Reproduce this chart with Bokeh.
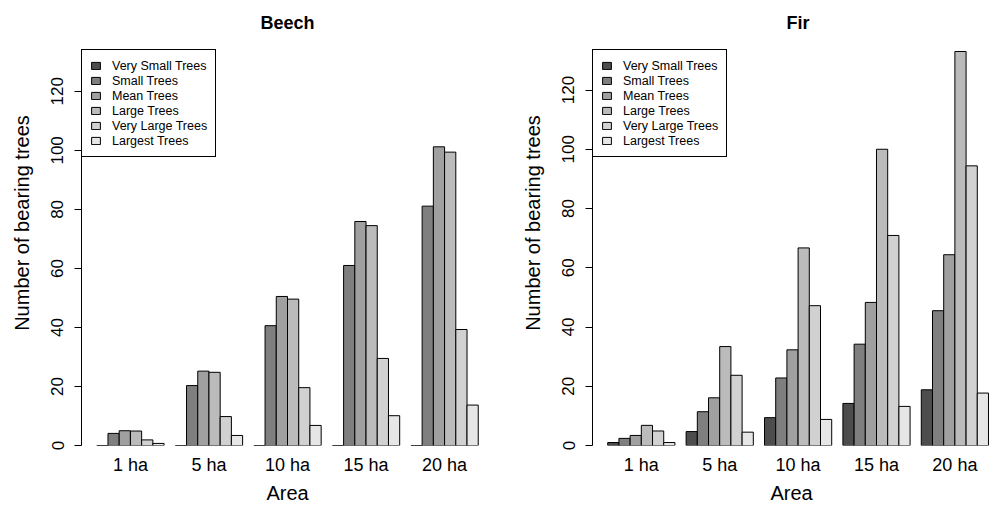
from bokeh.plotting import figure
from bokeh.models import Range1d, FixedTicker, Legend, LegendItem, ColumnDataSource, Label
from bokeh.layouts import row
from bokeh.embed import file_html
from bokeh.resources import INLINE

areas = ["1 ha", "5 ha", "10 ha", "15 ha", "20 ha"]
sizes = ["Very Small Trees", "Small Trees", "Mean Trees", "Large Trees",
         "Very Large Trees", "Largest Trees"]
colors = ["#4D4D4D", "#7F7F7F", "#A0A0A0", "#BBBBBB", "#D1D1D1", "#E6E6E6"]
y_ticks = [0, 20, 40, 60, 80, 100, 120]

beech_very_small = [0, 0, 0, 0, 0]
beech_small = [4.1, 20.3, 40.6, 61.0, 81.1]
beech_mean = [5.0, 25.2, 50.5, 75.9, 101.2]
beech_large = [4.9, 24.8, 49.6, 74.5, 99.4]
beech_very_large = [1.9, 9.8, 19.6, 29.5, 39.3]
beech_largest = [0.7, 3.4, 6.8, 10.1, 13.7]

fir_very_small = [1.0, 4.7, 9.4, 14.2, 18.8]
fir_small = [2.4, 11.4, 22.8, 34.2, 45.5]
fir_mean = [3.4, 16.1, 32.3, 48.3, 64.4]
fir_large = [6.8, 33.4, 66.7, 100.0, 133.0]
fir_very_large = [4.9, 23.7, 47.2, 70.9, 94.4]
fir_largest = [1.0, 4.5, 8.8, 13.2, 17.7]

FONT = "Liberation Sans"
INK = "black"
GROUP = len(sizes) + 1  # bars per group plus one bar of space
X_MID = (1 + GROUP * len(areas)) / 2  # centre of the plot region
H = 508
MB_BOTTOM = 63     # space below the frame (same for both panels: row aligns frames)
PLOT_TOP = 51      # top of the R plot region (px)
TITLE_Y = 22       # title centre (px)
LEGEND_H = 106


def make_panel(title, series, x_start, x_end, y_end, mb_left, mb_right):
    frame_h = H - MB_BOTTOM
    px_per_unit = (frame_h - PLOT_TOP) / y_end
    top_val = frame_h / px_per_unit  # frame reaches the top of the canvas
    p = figure(width=495, height=H, output_backend="svg", toolbar_location=None,
               x_range=Range1d(x_start, x_end), y_range=Range1d(0, top_val),
               min_border_left=mb_left, min_border_right=mb_right,
               min_border_top=0, min_border_bottom=MB_BOTTOM)
    p.outline_line_color = None
    p.xgrid.grid_line_color = None
    p.ygrid.grid_line_color = None
    p.background_fill_color = "white"
    p.border_fill_color = "white"

    items = []
    for j, (name, vals) in enumerate(zip(sizes, series)):
        xs = [1.5 + GROUP * g + j for g in range(len(areas))]
        src = ColumnDataSource(dict(x=xs, top=vals))
        r = p.vbar(x="x", top="top", bottom=0, width=1.0, source=src,
                   fill_color=colors[j], line_color=INK, line_width=1)
        items.append(LegendItem(label=name, renderers=[r]))

    legend = Legend(items=items, location=(0, frame_h - PLOT_TOP - LEGEND_H), margin=0,
                    padding=8, spacing=0,
                    label_height=15, glyph_height=9, glyph_width=11, label_standoff=11,
                    label_text_font=FONT, label_text_font_size="12.5px", label_text_color=INK,
                    border_line_color=INK, border_line_width=1, border_line_alpha=1.0,
                    background_fill_color="white", background_fill_alpha=1.0)
    p.add_layout(legend)

    p.add_layout(Label(x=X_MID, y=(frame_h - TITLE_Y) / px_per_unit, text=title,
                       text_font=FONT, text_font_size="18px", text_font_style="bold",
                       text_color=INK, text_align="center", text_baseline="middle"))

    ya = p.yaxis[0]
    ya.ticker = FixedTicker(ticks=y_ticks)
    ya.bounds = (0, 120)
    ya.major_label_orientation = "vertical"
    ya.minor_tick_line_color = None
    ya.major_tick_in = 0
    ya.major_tick_out = 7
    ya.major_label_standoff = 11
    ya.major_label_text_font = FONT
    ya.major_label_text_font_size = "17px"
    ya.major_label_text_color = INK
    ya.axis_label = "Number of bearing trees"
    ya.axis_label_text_font = FONT
    ya.axis_label_text_font_size = "20px"
    ya.axis_label_text_font_style = "normal"
    ya.axis_label_text_color = INK
    ya.axis_label_standoff = 16
    ya.axis_line_color = INK
    ya.major_tick_line_color = INK

    xa = p.xaxis[0]
    centers = [4 + GROUP * g for g in range(len(areas))]
    xa.ticker = FixedTicker(ticks=centers)
    xa.major_label_overrides = {c: a for c, a in zip(centers, areas)}
    xa.axis_line_color = None
    xa.major_tick_line_color = None
    xa.minor_tick_line_color = None
    xa.major_tick_out = 0
    xa.major_tick_in = 0
    xa.major_label_standoff = 9
    xa.major_label_text_font = FONT
    xa.major_label_text_font_size = "18px"
    xa.major_label_text_color = INK
    xa.axis_label = "Area"
    xa.axis_label_text_font = FONT
    xa.axis_label_text_font_size = "20px"
    xa.axis_label_text_font_style = "normal"
    xa.axis_label_text_color = INK
    xa.axis_label_standoff = 4
    return p


beech = make_panel("Beech",
                   [beech_very_small, beech_small, beech_mean, beech_large,
                    beech_very_large, beech_largest],
                   -0.36, 36.36, 133.5, 81, 2)
fir = make_panel("Fir",
                 [fir_very_small, fir_small, fir_mean, fir_large,
                  fir_very_large, fir_largest],
                 -0.36, 35.18, 133.0, 97, 0)

layout = row(beech, fir)
open("out.html", "w").write(file_html(layout, INLINE))
